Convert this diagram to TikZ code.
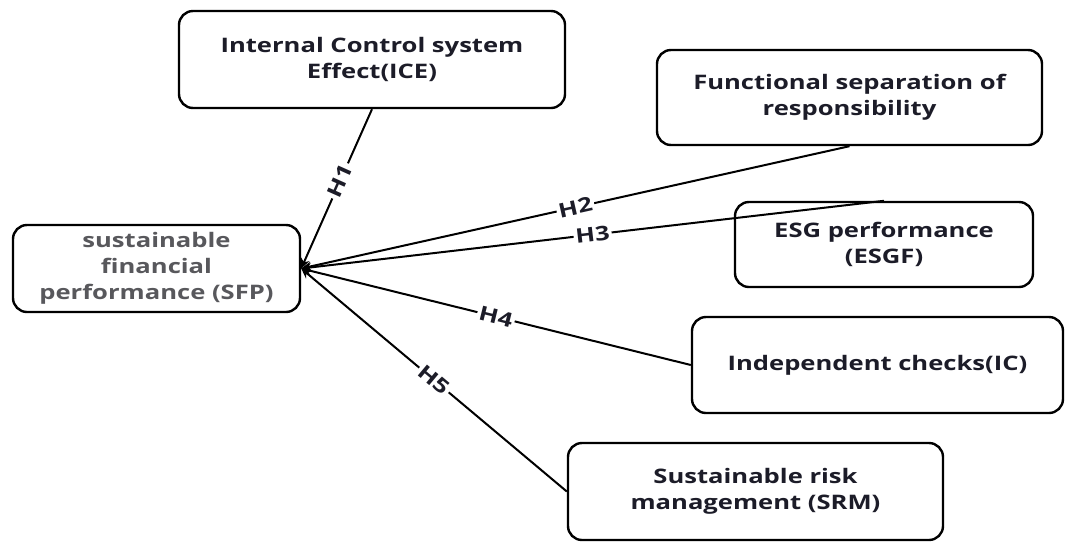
\documentclass[tikz,border=0pt]{standalone}
\usepackage{fontspec}
\newfontfamily\boxfont{Open Sans}[FakeStretch=1.28]
\usetikzlibrary{arrows.meta}
\definecolor{inkc}{RGB}{28,28,40}
\definecolor{sfpgray}{RGB}{88,88,92}

\begin{document}
\begin{tikzpicture}[
  x=1pt, y=-1pt,
  box/.style={draw=black, line width=2.4pt, rounded corners=14pt, fill=white,
    align=center, inner sep=0pt, text=inkc,
    font=\boxfont\bfseries\fontsize{20}{26}\selectfont},
  hlabel/.style={sloped, fill=white, inner sep=2pt, text=inkc,
    font=\boxfont\bfseries\fontsize{20}{22}\selectfont}
]
\useasboundingbox (0,0) rectangle (1065,542);

% dependent variable:
\node[box, text=sfpgray, minimum width=287, minimum height=87] (sfp) at (156.5,268.5)
  {sustainable\\financial\\performance (SFP)};

% independent variables:
\node[box, minimum width=386, minimum height=97] (ice) at (372,59.5)
  {Internal Control system\\Effect(ICE)};
\node[box, minimum width=385, minimum height=95] (func) at (849.5,97.5)
  {Functional separation of\\responsibility};
\node[box, minimum width=298, minimum height=85] (esg) at (884,244.5)
  {ESG performance\\(ESGF)};
\node[box, minimum width=371, minimum height=96] (ic) at (877.5,365)
  {Independent checks(IC)};
\node[box, minimum width=375, minimum height=97] (srm) at (755.5,491.5)
  {Sustainable risk\\management (SRM)};

% hypotheses, all pointing at SFP
\foreach \src/\hyp/\where in {ice.south/H1/0.45, func.south/H2/0.5,
    esg.north/H3/0.5, ic.west/H4/0.5, srm.west/H5/0.5}
  \draw[line width=2pt, -{Stealth[length=10pt,width=9pt]}]
    (\src) -- node[hlabel, pos=\where] {\hyp} (sfp.east);

\end{tikzpicture}
\end{document}
